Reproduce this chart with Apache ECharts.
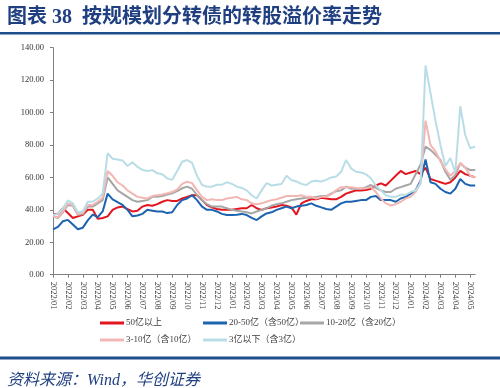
<!DOCTYPE html>
<html>
<head>
<meta charset="utf-8">
<script src="https://cdn.jsdelivr.net/npm/echarts@6/dist/echarts.min.js"></script>
<style>html,body{margin:0;padding:0;background:#fff;}#c{width:500px;height:388px;}</style>
</head>
<body>
<div id="c"></div>
<script>
// Tick labels (months) and sampling days within each month
const monthLabels = ['2022/01','2022/02','2022/03','2022/04','2022/05','2022/06','2022/07','2022/08','2022/09','2022/10','2022/11','2022/12',
  '2023/01','2023/02','2023/03','2023/04','2023/05','2023/06','2023/07','2023/08','2023/09','2023/10','2023/11','2023/12',
  '2024/01','2024/02','2024/03','2024/04','2024/05'];
const sampleDays = ['01','11','21'];
const lastDate = '2024/05/11';

const seriesNames = ['50亿以上','20-50亿（含50亿）','10-20亿（含20亿）','3-10亿（含10亿）','3亿以下（含3亿）'];

// 转股溢价率 (%) per sample date
const above50 = [37.5,37.5,41,38,35,36,37,40,40,34.5,
  35,36,40,41.5,42,40.5,39,39.5,42,43,
  42.5,43.5,45,46,45.5,45.5,47,48,49,49,
  46,43,41.5,40.5,40,40,40,40.5,41,41,
  43,41,40,41,41.5,42,43,42.5,41.5,37,
  44,45.5,46.5,46.5,47.5,47,46.5,46.5,48,50,
  51,52,52,52.2,53,55,56.3,55,58,61,
  64,62,63,64,62,66,59,58,57,56,
  57,60,64,62,61,60];
const from20to50 = [28,29.5,33,33.8,31,28,29,33.5,37,35.5,
  39,50,46.5,44.7,43,40,36,36.5,37.5,40,
  39.5,39,39,38,38.5,43,46,47,49,46,
  42,40,40,39,37.5,36.8,36.8,37,37.5,36.8,
  35,33.7,36,37.8,38.5,40,41,42,41,42,
  42.5,43,44,42.5,41.5,40.5,40,42,44,45,
  45,45.5,46,46,48,48.5,46,46,46,45,
  47,48,50,52,58,71,57,56,53,51,
  50,53,59,56,55,55];
const from10to20 = [36,35,38.5,43,42.5,37,37.5,42,42,44,
  46,60,56,52,50,48,46,45,45.5,46,
  48,48,48.5,49.5,50.2,51.5,53.3,54.3,53,49,
  46,43.5,42,42,42,41,40,39.5,39,38.5,
  37.8,39,40,41,42.5,43.5,44,45,46,46.5,
  47,47.5,47.5,48,48.5,48.5,50,51.5,52,54.3,
  53,53,53,54,55.3,53.5,52,51,51,53,
  54,55,56,62,68,79,77,74,70.8,63.5,
  58.5,61.5,68.7,66,64.5,64.5];
const from3to10 = [36,35.5,39,44,43,37.5,38,43,43,45,
  47.5,64,61,57,55,52,50,48,47.5,47,
  48.5,49,49.5,50.2,51,52.5,56,57.4,56.5,52,
  48,46,46.5,46,46,47,47.5,48,46.5,46,
  44,43.5,44,45,46,46.5,47.5,48.5,48.5,48.5,
  49,48,48,47,48,48,49.5,52,54,54,
  54,53.5,53.3,53.3,54,51,47,44,42.7,43.5,
  45,47,48,51,57,95,80,76,70,65,
  61,64,69,66,61,60];
const below3 = [37,37.5,41,45.8,44,38.5,39,45,45,47,
  50,75,71.5,71,70.5,67,69.4,66.5,64.6,64,
  64.5,62.5,62,59.4,58.5,64,69.7,70.7,69,61,
  55.3,54.3,54.3,55.5,55.5,57,56,54.3,53.5,52,
  49,47,52,56.5,55,55.5,56,61,58.4,57.5,
  56,55.3,57.5,58,57.5,58.5,60,60.5,63.5,70.7,
  65.6,63.5,63,62,59.5,55,52,49,48,48,
  49.3,49.3,51,52,56,129,112,95,80,67,
  72,63,104,86,78,79];

const yTicks = [0,20,40,60,80,100,120,140];

// build category list
const categories = [];
for (const m of monthLabels) {
  for (const d of sampleDays) {
    const s = m + '/' + d;
    categories.push(s);
    if (s === lastDate) break;
  }
}

const colors = ['#e3151f','#1c63b0','#a6a6a6','#f2b6b3','#b9dde7'];
const dataSets = [above50, from20to50, from10to20, from3to10, below3];

const isMonthStart = (idx, val) => /\/01$/.test(val);

const chart = echarts.init(document.getElementById('c'), null, {renderer:'canvas'});
const serif = '"Liberation Serif","Noto Sans CJK SC",serif';

const legendPos = [[100,318.5],[203,318.5],[300,318.5],[100,335.5],[203,335.5]];

chart.setOption({
  animation: false,
  backgroundColor: '#ffffff',
  title: [{
    text: '图表 38  按规模划分转债的转股溢价率走势',
    left: 2, top: 3,
    textStyle: {fontFamily: '"Liberation Serif","Noto Sans CJK SC",serif', fontWeight: 'bold', fontSize: 20, color: '#1f3f80'}
  },{
    text: '资料来源：Wind，华创证券',
    left: 2, top: 368,
    textStyle: {fontFamily: '"Liberation Serif","Noto Sans CJK SC",serif', fontStyle: 'italic', fontWeight: 'normal', fontSize: 16, color: '#1f3f80'}
  }],
  graphic: [
    {type:'rect', shape:{x:0, y:32, width:500, height:2.5}, style:{fill:'#1f4e8c'}},
    {type:'rect', shape:{x:0, y:356.5, width:500, height:3}, style:{fill:'#1f4e8c'}}
  ],
  legend: seriesNames.map((n, i) => ({
    data: [n],
    left: legendPos[i][0], top: legendPos[i][1],
    padding: 0,
    icon: 'rect', itemWidth: 24, itemHeight: 3,
    textStyle: {fontFamily: serif, fontSize: 9, color: '#404040', padding: [0,0,0,-3]}
  })),
  grid: {left: 53, right: 24.8, top: 47.7, bottom: 113.3},
  xAxis: {
    type: 'category',
    data: categories,
    boundaryGap: false,
    axisLine: {lineStyle: {color: '#7f7f7f', width: 1}},
    axisTick: {show: true, interval: isMonthStart, length: 3, lineStyle: {color: '#7f7f7f'}},
    axisLabel: {
      interval: isMonthStart, rotate: -90, margin: 7,
      formatter: v => v.slice(0, 7),
      fontFamily: serif, fontSize: 8.5, color: '#333'
    },
    splitLine: {show: false}
  },
  yAxis: {
    type: 'value',
    min: yTicks[0], max: yTicks[yTicks.length-1], interval: 20,
    axisLine: {show: true, lineStyle: {color: '#7f7f7f', width: 1}},
    axisTick: {show: true, length: 3, lineStyle: {color: '#7f7f7f'}},
    axisLabel: {formatter: v => v.toFixed(2), margin: 9, fontFamily: serif, fontSize: 8.5, color: '#333'},
    splitLine: {show: false}
  },
  series: seriesNames.map((n, i) => ({
    name: n,
    type: 'line',
    data: dataSets[i],
    symbol: 'none',
    lineStyle: {color: colors[i], width: 2},
    itemStyle: {color: colors[i]},
    z: 2 + i
  }))
});
</script>
</body>
</html>
